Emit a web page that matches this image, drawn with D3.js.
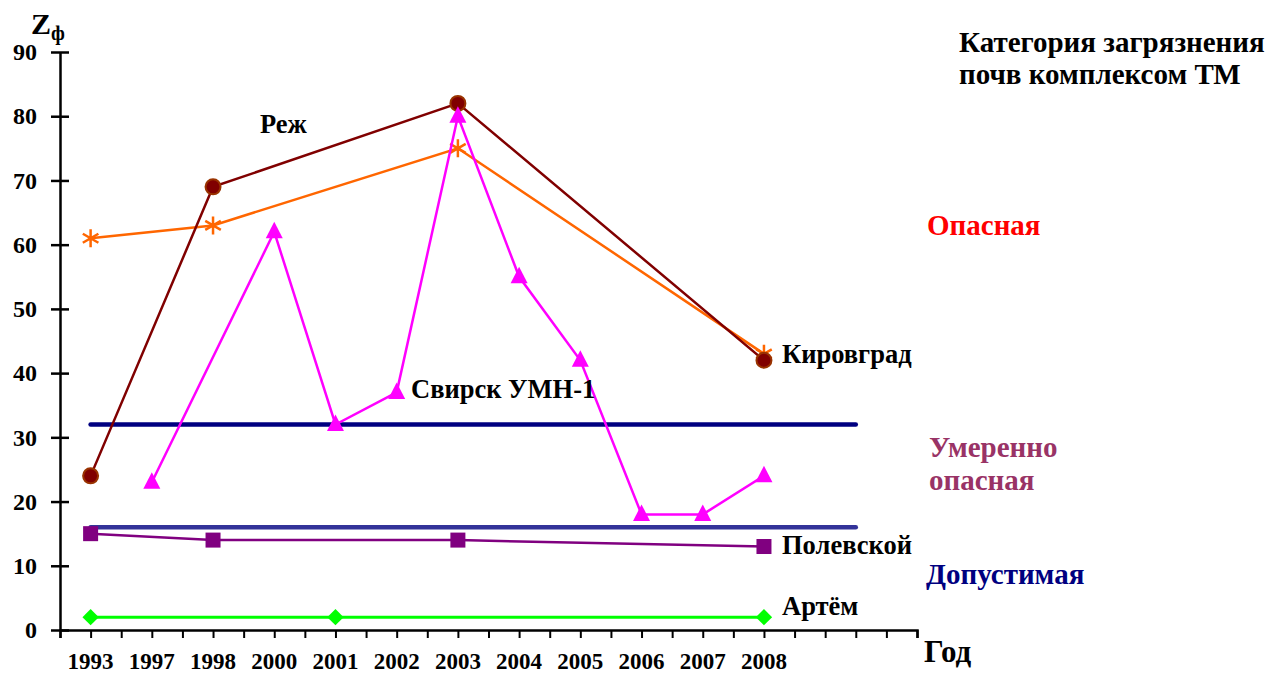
<!DOCTYPE html>
<html>
<head>
<meta charset="utf-8">
<script src="https://cdn.jsdelivr.net/npm/d3@7"></script>
<style>
  body { margin: 0; background: #fff; }
  svg text { font-family: "Liberation Serif", "Times New Roman", serif; font-weight: bold; }
</style>
</head>
<body>
<svg id="chart" width="1272" height="675"></svg>
<script>
// x categories (two empty slots follow 2008)
var years = ["1993", "1997", "1998", "2000", "2001", "2002", "2003", "2004", "2005", "2006", "2007", "2008"];
var slotCount = 14;

// series values, [year, Zc]
var rezh      = [["1993", 24], ["1998", 69], ["2003", 82], ["2008", 42]];
var kirovgrad = [["1993", 61], ["1998", 63], ["2003", 75], ["2008", 43]];
var svirsk    = [["1997", 23], ["2000", 62], ["2001", 32], ["2002", 37], ["2003", 80],
                 ["2004", 55], ["2005", 42], ["2006", 18], ["2007", 18], ["2008", 24]];
var polevskoy = [["1993", 15], ["1998", 14], ["2003", 14], ["2008", 13]];
var artem     = [["1993", 2], ["2001", 2], ["2008", 2]];

// category boundaries
var limits = [32, 16];
var yTicks = [0, 10, 20, 30, 40, 50, 60, 70, 80, 90];

var svg = d3.select("#chart");

var x = d3.scaleLinear().domain([0, slotCount]).range([60, 917]);
var y = d3.scaleLinear().domain([0, 90]).range([630, 52]);
function xYear(yr) { return x(years.indexOf(yr) + 0.5); }

// x axis
var xAxis = d3.axisBottom(x)
    .tickValues(d3.range(0, slotCount + 0.01, 0.5))
    .tickSize(8)
    .tickFormat("");
var xg = svg.append("g")
    .attr("transform", "translate(0," + y(0) + ")")
    .call(xAxis);
xg.select(".domain").attr("stroke", "#000").attr("stroke-width", 2.5);
xg.selectAll(".tick line").attr("stroke", "#000").attr("stroke-width", 2);

svg.selectAll(".year-label")
    .data(years)
    .enter()
    .append("text")
        .attr("class", "year-label")
        .attr("x", function(d) { return xYear(d); })
        .attr("y", 669)
        .attr("text-anchor", "middle")
        .attr("font-size", 23)
        .text(function(d) { return d; });

// y axis
var yAxis = d3.axisLeft(y).tickValues(yTicks).tickSize(9).tickPadding(14).tickSizeOuter(0);
var yg = svg.append("g")
    .attr("transform", "translate(" + x(0) + ",0)")
    .call(yAxis);
yg.select(".domain").attr("stroke", "#000").attr("stroke-width", 2.5);
yg.selectAll(".tick line").attr("x1", 9).attr("stroke", "#000").attr("stroke-width", 2.5);
yg.selectAll(".tick text")
    .attr("font-size", 24)
    .attr("font-family", "Liberation Serif")
    .attr("font-weight", "bold")
    .attr("fill", "#000");

// axis titles
var zt = svg.append("text").attr("x", 31).attr("y", 34).attr("font-size", 30);
zt.append("tspan").text("Z");
zt.append("tspan").attr("font-size", 20).attr("dy", 6).text("ф");

svg.append("text").attr("x", 924).attr("y", 662).attr("font-size", 31).text("Год");

// limit lines
var limitColors = ["#000080", "#333399"];
limits.forEach(function(v, i) {
    svg.append("line")
        .attr("x1", xYear("1993"))
        .attr("x2", x(slotCount - 1))
        .attr("y1", y(v))
        .attr("y2", y(v))
        .attr("stroke", limitColors[i])
        .attr("stroke-width", 4.5)
        .attr("stroke-linecap", "round");
});

var line = d3.line()
    .x(function(d) { return xYear(d[0]); })
    .y(function(d) { return y(d[1]); });

function drawLine(data, color, width) {
    svg.append("path")
        .datum(data)
        .attr("d", line)
        .attr("fill", "none")
        .attr("stroke", color)
        .attr("stroke-width", width);
}

// Артём
drawLine(artem, "#00ff00", 3);
svg.selectAll(".dia")
    .data(artem).enter()
    .append("path")
        .attr("d", d3.symbol().type(d3.symbolDiamond2).size(170))
        .attr("transform", function(d) { return "translate(" + xYear(d[0]) + "," + y(d[1]) + ")"; })
        .attr("fill", "#00ff00");

// Полевской
drawLine(polevskoy, "#800080", 2.5);
svg.selectAll(".sq")
    .data(polevskoy).enter()
    .append("rect")
        .attr("x", function(d) { return xYear(d[0]) - 7.5; })
        .attr("y", function(d) { return y(d[1]) - 7.5; })
        .attr("width", 15)
        .attr("height", 15)
        .attr("fill", "#800080");

// Кировград
drawLine(kirovgrad, "#ff6600", 2.5);
svg.selectAll(".ast")
    .data(kirovgrad).enter()
    .append("path")
        .attr("d", function() {
            var r = 9, p = "";
            [90, 30, -30].forEach(function(a) {
                var t = a * Math.PI / 180;
                p += "M" + (-r * Math.cos(t)) + "," + (-r * Math.sin(t)) + "L" + (r * Math.cos(t)) + "," + (r * Math.sin(t));
            });
            return p;
        })
        .attr("transform", function(d) { return "translate(" + xYear(d[0]) + "," + y(d[1]) + ")"; })
        .attr("stroke", "#ff6600")
        .attr("stroke-width", 2.5)
        .attr("fill", "none");

// Реж
drawLine(rezh, "#800000", 2.5);
svg.selectAll(".circ")
    .data(rezh).enter()
    .append("circle")
        .attr("cx", function(d) { return xYear(d[0]); })
        .attr("cy", function(d) { return y(d[1]); })
        .attr("r", 7.5)
        .attr("fill", "#800000")
        .attr("stroke", "#993300")
        .attr("stroke-width", 2);

// Свирск УМН-1
drawLine(svirsk, "#ff00ff", 2.5);
svg.selectAll(".tri")
    .data(svirsk).enter()
    .append("path")
        .attr("d", "M0,-10L8.5,6.5L-8.5,6.5Z")
        .attr("transform", function(d) { return "translate(" + xYear(d[0]) + "," + y(d[1]) + ")"; })
        .attr("fill", "#ff00ff");

// series labels
var seriesLabels = [
    ["Реж", 260, 133],
    ["Свирск УМН-1", 411, 398],
    ["Кировград", 782, 363],
    ["Полевской", 782, 554],
    ["Артём", 782, 615]
];
seriesLabels.forEach(function(s) {
    svg.append("text").attr("x", s[1]).attr("y", s[2]).attr("font-size", 26.5).attr("fill", "#000").text(s[0]);
});

// category labels
svg.append("text").attr("x", 959).attr("y", 52).attr("font-size", 29).text("Категория загрязнения");
svg.append("text").attr("x", 959).attr("y", 84).attr("font-size", 29).text("почв комплексом ТМ");
svg.append("text").attr("x", 927).attr("y", 235).attr("font-size", 29).attr("fill", "#ff0000").text("Опасная");
svg.append("text").attr("x", 929).attr("y", 457).attr("font-size", 29).attr("fill", "#993366").text("Умеренно");
svg.append("text").attr("x", 929).attr("y", 490).attr("font-size", 29).attr("fill", "#993366").text("опасная");
svg.append("text").attr("x", 926).attr("y", 584).attr("font-size", 29).attr("fill", "#000080").text("Допустимая");
</script>
</body>
</html>
